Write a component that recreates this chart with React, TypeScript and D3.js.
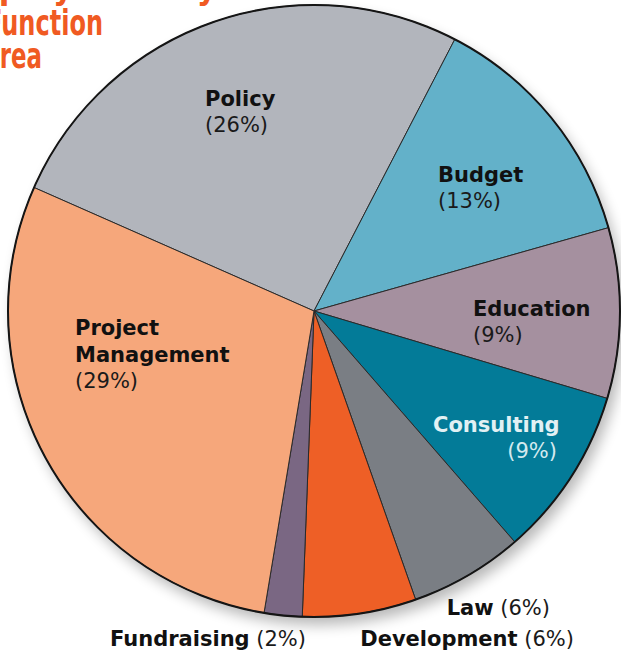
import React, { useEffect, useRef } from 'react';
import * as d3 from 'd3';

// slices, clockwise from the top-left edge of Policy
const categories = ['Policy', 'Budget', 'Education', 'Consulting', 'Law', 'Development', 'Fundraising', 'Project Management'];
const shares = [26, 13, 9, 9, 6, 6, 2, 29];
const colors = ['#b2b5bc', '#63b1c9', '#a5909f', '#037b98', '#7a7e84', '#ee5f26', '#7a6783', '#f6a77b'];
const titleLines = ['Employment by', 'Function', 'Area'];

const App: React.FC = () => {
  const svgRef = useRef<SVGSVGElement>(null);

  useEffect(() => {
    const width = 621;
    const height = 655;
    const cx = 314;
    const cy = 311;
    const radius = 306;
    const font = '"DejaVu Sans", sans-serif';

    const svg = d3.select(svgRef.current)
      .attr('width', width)
      .attr('height', height)
      .attr('viewBox', [0, 0, width, height].join(' '));
    svg.selectAll('*').remove();

    // soft shadow under the pie
    const defs = svg.append('defs');
    const f = defs.append('filter').attr('id', 'shadow')
      .attr('x', '-20%').attr('y', '-20%').attr('width', '140%').attr('height', '140%');
    f.append('feGaussianBlur').attr('stdDeviation', 7);

    // title, mostly cut off at the top-left
    const titleG = svg.append('g')
      .attr('fill', '#f05a22')
      .attr('font-family', font)
      .attr('font-weight', 'bold')
      .attr('font-size', 36);
    const titlePos = [
      { x: -55, y: -1, len: 272 },
      { x: -14, y: 35, len: 117 },
      { x: -18, y: 68, len: 60 },
    ];
    titleLines.forEach((t, i) => {
      titleG.append('text')
        .attr('x', titlePos[i].x)
        .attr('y', titlePos[i].y)
        .attr('textLength', titlePos[i].len)
        .attr('lengthAdjust', 'spacingAndGlyphs')
        .text(t);
    });

    const g = svg.append('g').attr('transform', `translate(${cx},${cy})`);

    g.append('circle')
      .attr('cx', 5).attr('cy', 8)
      .attr('r', radius)
      .attr('fill', '#000')
      .attr('opacity', 0.28)
      .attr('filter', 'url(#shadow)');

    const start = -66.2;
    const pie = d3.pie<number>()
      .sort(null)
      .value(d => d)
      .startAngle(start * Math.PI / 180)
      .endAngle((360 + start) * Math.PI / 180);

    const arc = d3.arc<d3.PieArcDatum<number>>()
      .innerRadius(0)
      .outerRadius(radius);

    g.selectAll('path.slice')
      .data(pie(shares))
      .enter()
      .append('path')
      .attr('class', 'slice')
      .attr('d', arc)
      .attr('fill', (_, i) => colors[i])
      .attr('stroke', '#2a2a2a')
      .attr('stroke-width', 1)
      .attr('stroke-linejoin', 'round');

    g.append('circle')
      .attr('r', radius)
      .attr('fill', 'none')
      .attr('stroke', '#151515')
      .attr('stroke-width', 2);

    // labels
    const labels = svg.append('g')
      .attr('font-family', font)
      .attr('font-size', 21);

    const pct = (i: number) => `(${shares[i]}%)`;

    type Lab = { i: number, x: number, y: number, lines: string[], fill?: string, pctX?: number, pctAnchor?: string, pctFill?: string };
    const stacked: Lab[] = [
      { i: 0, x: 205, y: 106, lines: ['Policy'] },
      { i: 1, x: 438, y: 182, lines: ['Budget'] },
      { i: 2, x: 473, y: 316, lines: ['Education'] },
      { i: 7, x: 75, y: 335, lines: ['Project', 'Management'] },
      { i: 3, x: 433, y: 432, lines: ['Consulting'], fill: '#e2f1f4', pctX: 557, pctAnchor: 'end', pctFill: '#d3eaef' },
    ];
    const lh = 27;
    stacked.forEach(l => {
      l.lines.forEach((t, k) => {
        labels.append('text')
          .attr('x', l.x)
          .attr('y', l.y + k * lh)
          .attr('font-weight', 'bold')
          .attr('fill', l.fill ?? '#111')
          .text(t);
      });
      labels.append('text')
        .attr('x', l.pctX ?? l.x)
        .attr('y', l.y + l.lines.length * lh - 1)
        .attr('text-anchor', l.pctAnchor ?? 'start')
        .attr('fill', l.pctFill ?? '#1a1a1a')
        .text(pct(l.i));
    });

    const inline = [
      { i: 4, x: 550, y: 615, anchor: 'end' },
      { i: 5, x: 574, y: 646, anchor: 'end' },
      { i: 6, x: 110, y: 646, anchor: 'start' },
    ];
    inline.forEach(l => {
      const t = labels.append('text')
        .attr('x', l.x)
        .attr('y', l.y)
        .attr('text-anchor', l.anchor)
        .attr('fill', '#111');
      t.append('tspan').attr('font-weight', 'bold').text(categories[l.i]);
      t.append('tspan').attr('fill', '#1a1a1a').text(' ' + pct(l.i));
    });
  }, []);

  return (
    <div>
      <svg ref={svgRef} style={{ position: 'absolute', left: 0, top: 0, background: '#fff' }}></svg>
    </div>
  );
};

export default App;
